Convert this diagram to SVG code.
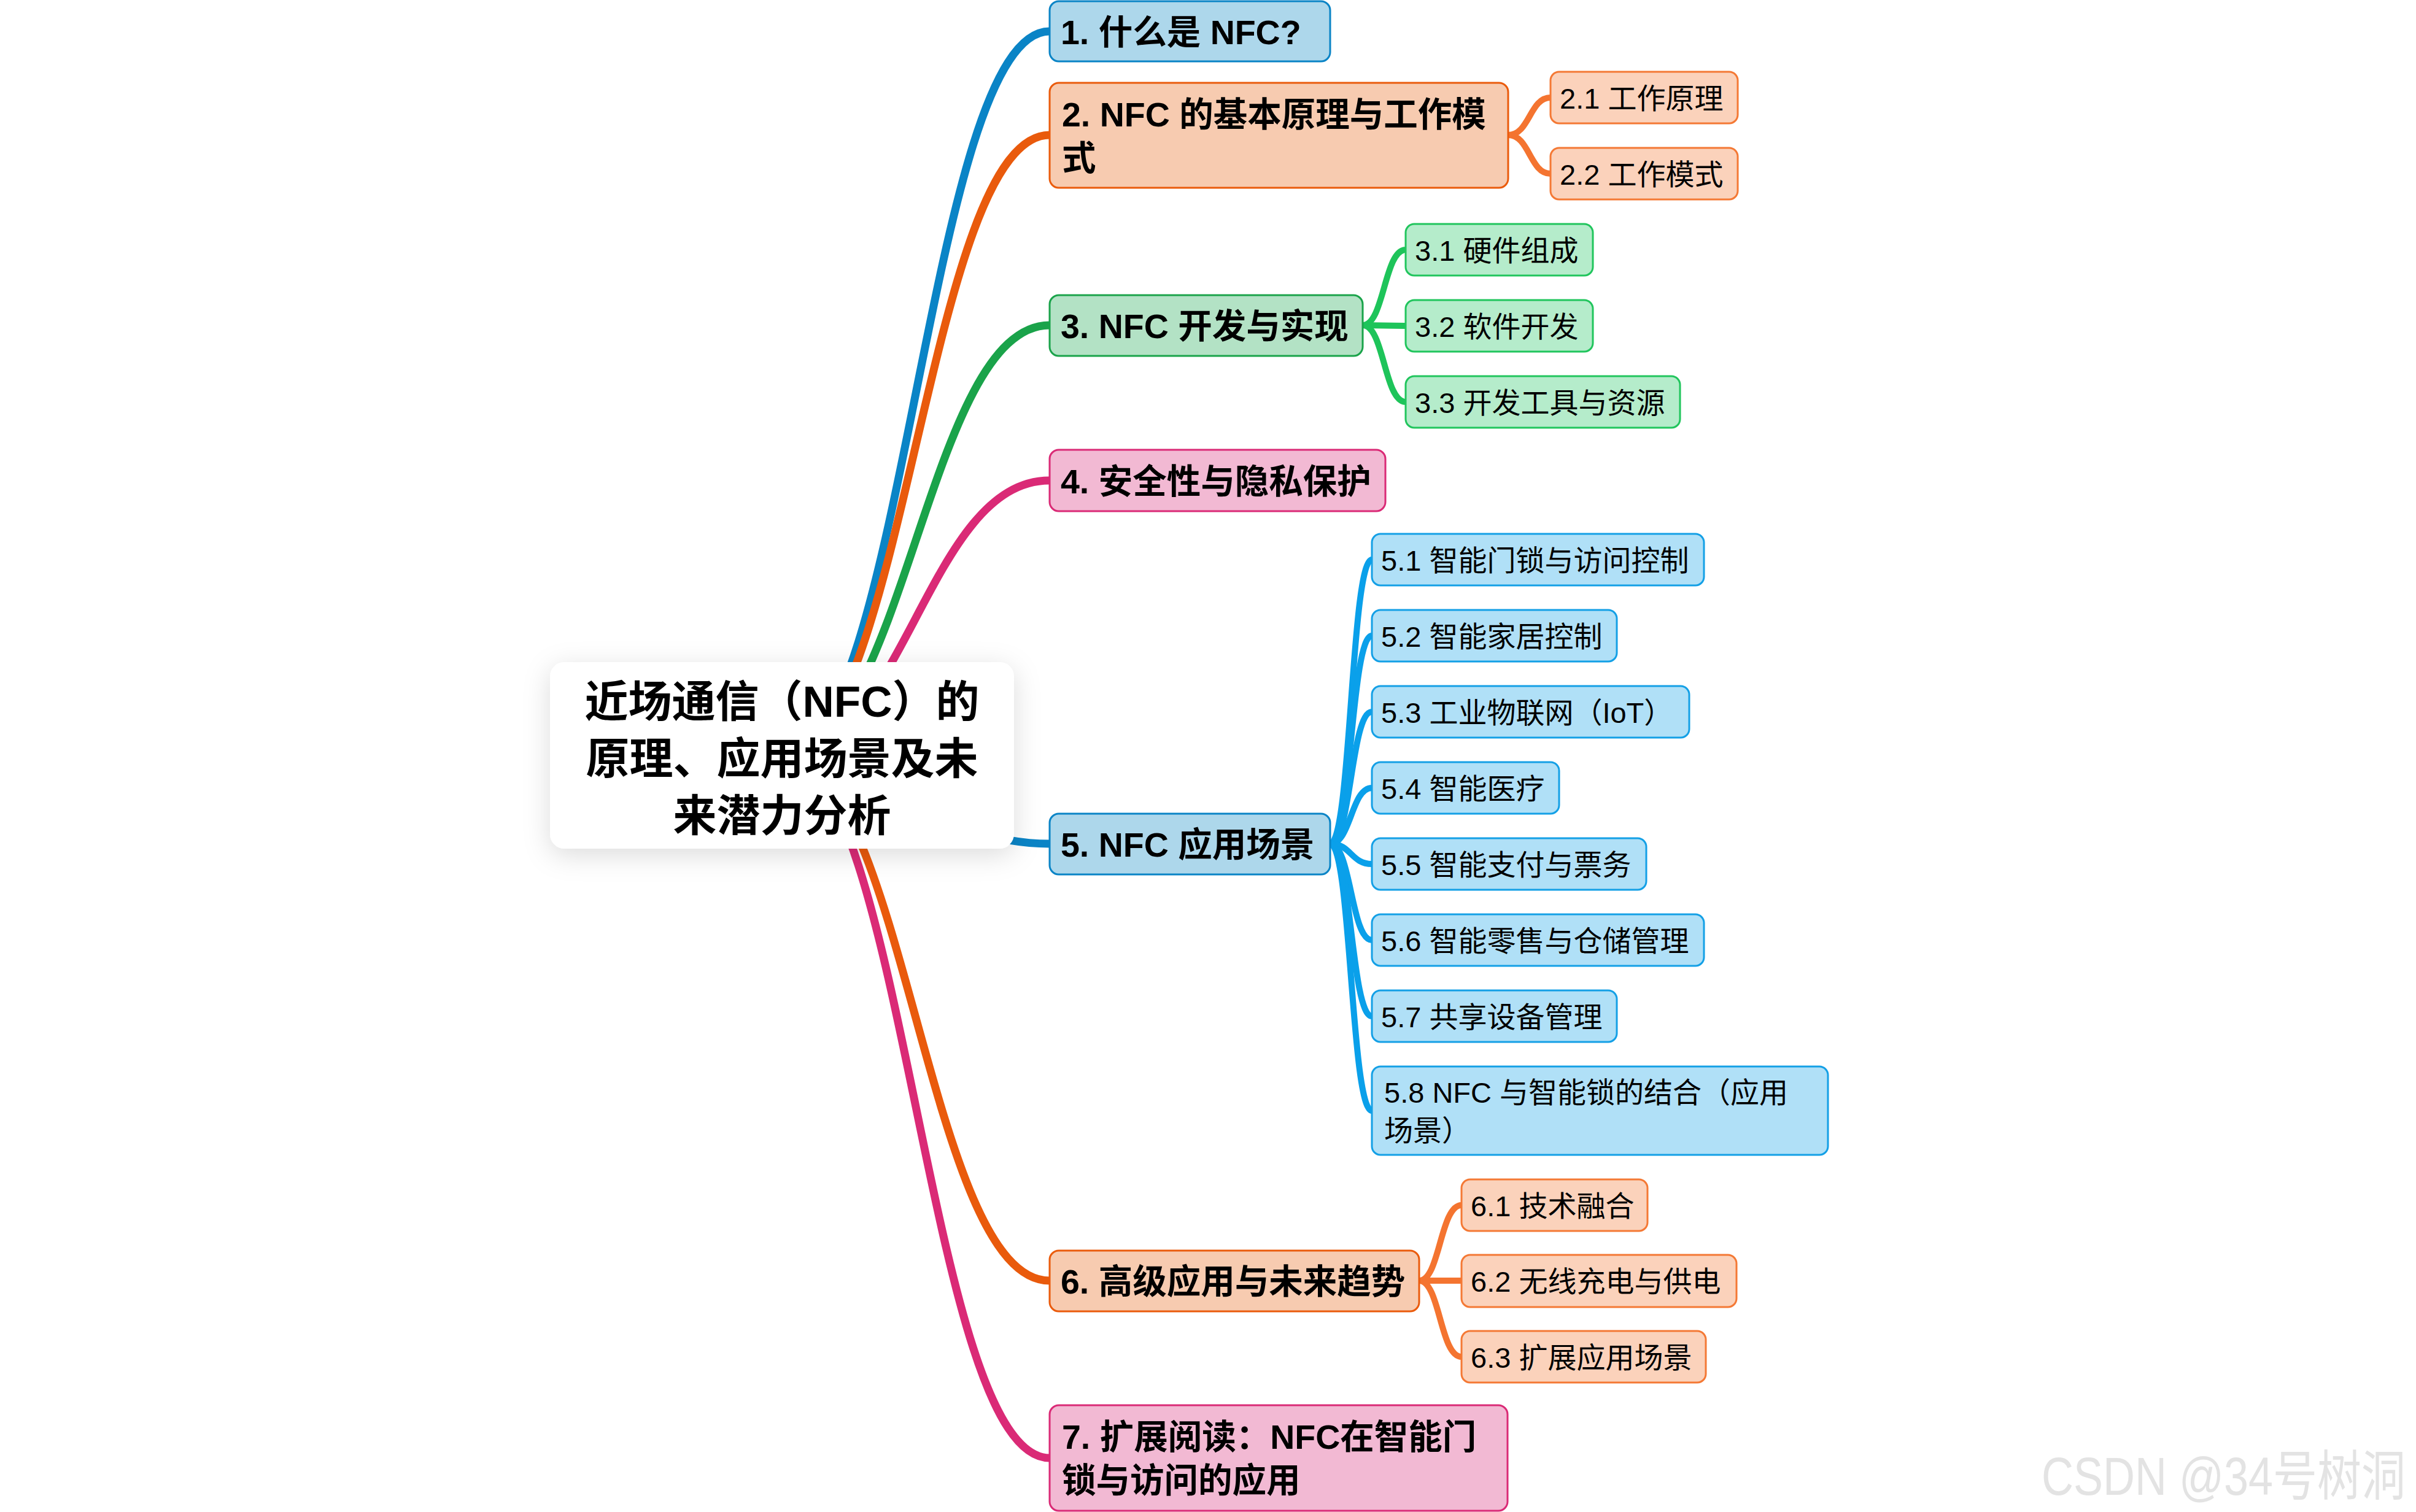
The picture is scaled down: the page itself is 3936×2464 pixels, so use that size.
<svg xmlns="http://www.w3.org/2000/svg" width="3936" height="2464" viewBox="0 0 3936 2464">
<defs>
<filter id="sh" x="-30%" y="-30%" width="160%" height="180%">
<feDropShadow dx="0" dy="10" stdDeviation="22" flood-color="#000" flood-opacity="0.14"/>
</filter>
<style>
text{font-family:"Liberation Sans","Noto Sans CJK SC",sans-serif;fill:#000}
.root text{font-size:71px;font-weight:700;text-anchor:middle}
.m text{font-size:55.5px;font-weight:700}
.s text{font-size:47px}
.m rect{stroke-width:3}
.s rect{stroke-width:3}
.c path{fill:none;stroke-linecap:round}
.mc path{stroke-width:13}
.sc path{stroke-width:10}
.blue rect{fill:#ADD7EB;stroke:#0A84C6}
.orange rect{fill:#F7CBB0;stroke:#EA5B0C}
.green rect{fill:#B3E2C5;stroke:#1AA34A}
.pink rect{fill:#F2B9D3;stroke:#DA2A76}
.sblue rect{fill:#B0E0F7;stroke:#14A0E6}
.sorange rect{fill:#FBD2BB;stroke:#F47935}
.sgreen rect{fill:#B5ECCB;stroke:#21C55D}
.wm{font-family:"Liberation Sans","Noto Sans CJK SC",sans-serif;font-size:72px;fill:#E3E3E3}
</style>
</defs>
<rect width="3936" height="2464" fill="#fff"/>

<g id="connectors" class="c">
<g class="mc">
<path d="M1274 1231 C1474 1231 1510 51 1710 51" stroke="#0A84C6"/>
<path d="M1274 1231 C1474 1231 1510 220 1710 220" stroke="#E95A0C"/>
<path d="M1274 1231 C1474 1231 1510 530 1710 530" stroke="#1AA34A"/>
<path d="M1274 1231 C1474 1231 1510 783 1710 783" stroke="#DA2A76"/>
<path d="M1274 1231 C1474 1231 1510 1375 1710 1375" stroke="#0A84C6"/>
<path d="M1274 1231 C1474 1231 1510 2087 1710 2087" stroke="#E95A0C"/>
<path d="M1274 1231 C1474 1231 1510 2376 1710 2376" stroke="#DA2A76"/>
</g>
<g class="sc">
<path d="M2457 220 C2492 220 2492 159 2526 159" stroke="#F47430"/>
<path d="M2457 220 C2492 220 2492 283 2526 283" stroke="#F47430"/>
<path d="M2220 530 C2255 530 2255 407 2290 407" stroke="#1EC45A"/>
<path d="M2220 530 L2290 531" stroke="#1EC45A"/>
<path d="M2220 530 C2255 530 2255 655 2290 655" stroke="#1EC45A"/>
<path d="M2167 1375 C2201 1375 2201 912 2235 912" stroke="#0AA0EA"/>
<path d="M2167 1375 C2201 1375 2201 1036 2235 1036" stroke="#0AA0EA"/>
<path d="M2167 1375 C2201 1375 2201 1160 2235 1160" stroke="#0AA0EA"/>
<path d="M2167 1375 C2201 1375 2201 1284 2235 1284" stroke="#0AA0EA"/>
<path d="M2167 1375 C2201 1375 2201 1408 2235 1408" stroke="#0AA0EA"/>
<path d="M2167 1375 C2201 1375 2201 1532 2235 1532" stroke="#0AA0EA"/>
<path d="M2167 1375 C2201 1375 2201 1656 2235 1656" stroke="#0AA0EA"/>
<path d="M2167 1375 C2201 1375 2201 1810 2235 1810" stroke="#0AA0EA"/>
<path d="M2312 2087 C2346 2087 2346 1964 2381 1964" stroke="#F47430"/>
<path d="M2312 2087 L2381 2087" stroke="#F47430"/>
<path d="M2312 2087 C2346 2087 2346 2211 2381 2211" stroke="#F47430"/>
</g>
</g>

<g id="root" class="root">
<rect x="896" y="1079" width="756" height="304" rx="24" fill="#fff" filter="url(#sh)"/>
<text x="1274" y="1168">近场通信（NFC）的<tspan x="1274" y="1261">原理、应用场景及未</tspan><tspan x="1274" y="1354">来潜力分析</tspan></text>
</g>

<g id="n1" class="m blue"><rect x="1710" y="2" width="457" height="98" rx="15"/><text x="1728" y="72">1. 什么是 NFC?</text></g>
<g id="n2" class="m orange"><rect x="1710" y="135" width="747" height="171" rx="15"/><text x="1730" y="206">2. NFC 的基本原理与工作模<tspan x="1730" y="277">式</tspan></text></g>
<g id="n3" class="m green"><rect x="1710" y="481" width="510" height="99" rx="15"/><text x="1728" y="551">3. NFC 开发与实现</text></g>
<g id="n4" class="m pink"><rect x="1710" y="733" width="547" height="100" rx="15"/><text x="1728" y="804">4. 安全性与隐私保护</text></g>
<g id="n5" class="m blue"><rect x="1710" y="1326" width="457" height="99" rx="15"/><text x="1728" y="1396">5. NFC 应用场景</text></g>
<g id="n6" class="m orange"><rect x="1710" y="2038" width="602" height="99" rx="15"/><text x="1728" y="2108">6. 高级应用与未来趋势</text></g>
<g id="n7" class="m pink"><rect x="1710" y="2290" width="746" height="172" rx="15"/><text x="1730" y="2361">7. 扩展阅读：NFC在智能门<tspan x="1730" y="2432">锁与访问的应用</tspan></text></g>

<g id="n21" class="s sorange"><rect x="2526" y="117" width="305" height="84" rx="14"/><text x="2541" y="177">2.1 工作原理</text></g>
<g id="n22" class="s sorange"><rect x="2526" y="241" width="305" height="84" rx="14"/><text x="2541" y="301">2.2 工作模式</text></g>

<g id="n31" class="s sgreen"><rect x="2290" y="365" width="305" height="84" rx="14"/><text x="2305" y="425">3.1 硬件组成</text></g>
<g id="n32" class="s sgreen"><rect x="2290" y="489" width="305" height="84" rx="14"/><text x="2305" y="549">3.2 软件开发</text></g>
<g id="n33" class="s sgreen"><rect x="2290" y="613" width="447" height="84" rx="14"/><text x="2305" y="673">3.3 开发工具与资源</text></g>

<g id="n51" class="s sblue"><rect x="2235" y="870" width="541" height="84" rx="14"/><text x="2250" y="930">5.1 智能门锁与访问控制</text></g>
<g id="n52" class="s sblue"><rect x="2235" y="994" width="399" height="84" rx="14"/><text x="2250" y="1054">5.2 智能家居控制</text></g>
<g id="n53" class="s sblue"><rect x="2235" y="1118" width="517" height="84" rx="14"/><text x="2250" y="1178">5.3 工业物联网（IoT）</text></g>
<g id="n54" class="s sblue"><rect x="2235" y="1242" width="305" height="84" rx="14"/><text x="2250" y="1302">5.4 智能医疗</text></g>
<g id="n55" class="s sblue"><rect x="2235" y="1366" width="447" height="84" rx="14"/><text x="2250" y="1426">5.5 智能支付与票务</text></g>
<g id="n56" class="s sblue"><rect x="2235" y="1490" width="541" height="84" rx="14"/><text x="2250" y="1550">5.6 智能零售与仓储管理</text></g>
<g id="n57" class="s sblue"><rect x="2235" y="1614" width="399" height="84" rx="14"/><text x="2250" y="1674">5.7 共享设备管理</text></g>
<g id="n58" class="s sblue"><rect x="2235" y="1738" width="743" height="144" rx="14"/><text x="2255" y="1797">5.8 NFC 与智能锁的结合（应用<tspan x="2255" y="1859">场景）</tspan></text></g>

<g id="n61" class="s sorange"><rect x="2381" y="1922" width="303" height="84" rx="14"/><text x="2396" y="1982">6.1 技术融合</text></g>
<g id="n62" class="s sorange"><rect x="2381" y="2045" width="448" height="85" rx="14"/><text x="2396" y="2105">6.2 无线充电与供电</text></g>
<g id="n63" class="s sorange"><rect x="2381" y="2169" width="398" height="84" rx="14"/><text x="2396" y="2229">6.3 扩展应用场景</text></g>

<text class="wm" transform="translate(3326 2436) scale(1 1.22)" x="0" y="0">CSDN @34号树洞</text>
</svg>
